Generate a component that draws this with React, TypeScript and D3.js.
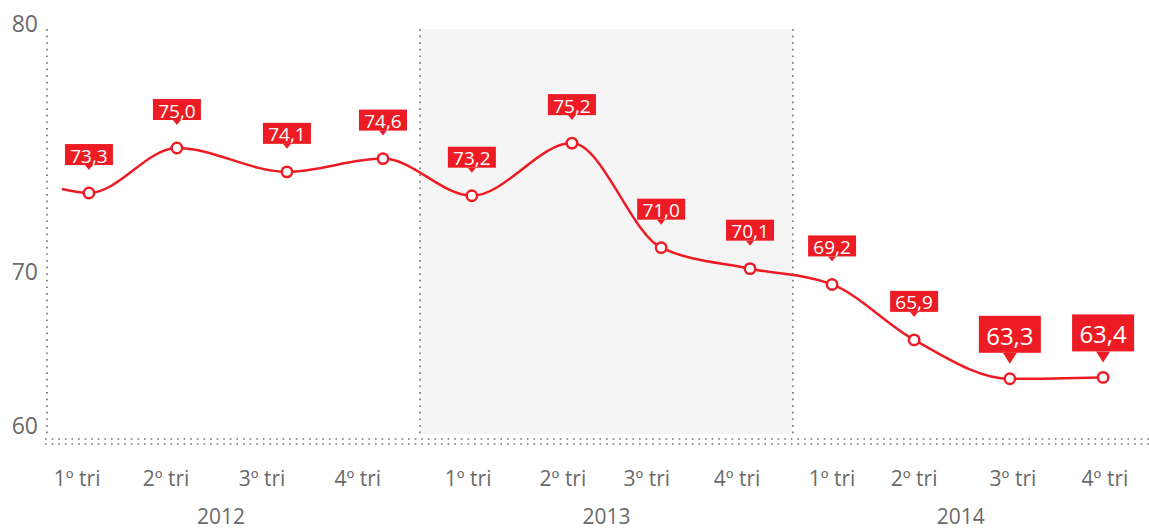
import * as d3 from "d3";

// quarterly values
const years = ["2012", "2013", "2014"];
const quarterLabels = ["1º tri", "2º tri", "3º tri", "4º tri"];
const values = [73.3, 75.0, 74.1, 74.6, 73.2, 75.2, 71.0, 70.1, 69.2, 65.9, 63.3, 63.4];
// position of each reading, in months from Jan 2012
const pointMonth = [1.35, 4.18, 7.72, 10.81, 13.67, 16.89, 19.76, 22.62, 25.26, 27.9, 30.98, 33.98];
const tickMonth = [0.97, 3.83, 6.92, 10.0, 13.55, 16.6, 19.3, 22.2, 25.26, 27.9, 31.08, 34.04];
const yearMonth = [5.6, 18.0, 29.4];
const yearStart = [0, 12, 24];
// the line begins a little before the first reading
const lineStartMonth = 0.48;
const lineStartValue = 73.45;
const yTicks = [60, 70, 80];

const RED = "#ed1c24";
const GREY_TEXT = "#6a6a6a";
const DOT = "#7a7a7a";
const FONT = "'Open Sans', 'Noto Sans', sans-serif";

function fmt(v: number) {
  return v.toFixed(1).replace(".", ",");
}

export default function App() {
  const width = 1149;
  const height = 531;

  const x = d3.scaleLinear().domain([0, 36]).range([47, 47 + 36 * 31.08]);
  // the source chart is not evenly scaled, so piecewise
  const y = d3
    .scaleLinear()
    .domain([60, 65, 70, 73, 75, 80])
    .range([425, 355, 271, 201, 148, 26]);

  const plotTop = y(80) + 3;
  const plotBottom = y(60) + 9;

  const linePts: [number, number][] = [[lineStartMonth, lineStartValue]].concat(
    values.map((v, i) => [pointMonth[i], v])
  ) as [number, number][];

  const line = d3
    .line<[number, number]>()
    .x((d) => x(d[0]))
    .y((d) => y(d[1]))
    .curve(d3.curveMonotoneX);

  const dash = { stroke: DOT, strokeWidth: 1.7, strokeDasharray: "1.7 4.9" };

  return (
    <div style={{ position: "absolute", left: 0, top: 0 }}>
      <svg width={width} height={height} style={{ display: "block", fontFamily: FONT }}>
        <rect width={width} height={height} fill="#fff" />

        {/* 2013 band */}
        <rect
          x={x(12)}
          y={plotTop}
          width={x(24) - x(12)}
          height={plotBottom - plotTop}
          fill="#f5f5f5"
        />

        {/* year dividers */}
        {yearStart.map((m) => (
          <line key={m} x1={x(m)} x2={x(m)} y1={plotTop} y2={plotBottom} {...dash} />
        ))}

        {/* double dotted baseline */}
        {[14, 19].map((off) => (
          <line key={off} x1={x(0) - 2} x2={width} y1={y(60) + off} y2={y(60) + off} {...dash} />
        ))}

        {/* y ticks */}
        {yTicks.map((t) => (
          <text
            key={t}
            x={38}
            y={y(t) - (t === 80 ? 3 : 0)}
            textAnchor="end"
            dominantBaseline="central"
            fontSize={23}
            fill={GREY_TEXT}
          >
            {t}
          </text>
        ))}

        {/* quarter labels */}
        {tickMonth.map((m, i) => (
          <text
            key={i}
            x={x(m)}
            y={478}
            textAnchor="middle"
            dominantBaseline="central"
            fontSize={21}
            fill={GREY_TEXT}
          >
            {quarterLabels[i % 4]}
          </text>
        ))}

        {/* year labels */}
        {yearMonth.map((m, i) => (
          <text
            key={years[i]}
            x={x(m)}
            y={524}
            textAnchor="middle"
            fontSize={21}
            fill={GREY_TEXT}
          >
            {years[i]}
          </text>
        ))}

        {/* series line */}
        <path d={line(linePts) || ""} fill="none" stroke={RED} strokeWidth={2.5} strokeLinejoin="round" />

        {/* points + callouts */}
        {values.map((v, i) => {
          const cx = x(pointMonth[i]);
          const cy = y(v);
          const big = i >= values.length - 2;
          const bw = big ? 62 : 48;
          const bh = big ? 37 : 21;
          const gap = big ? 26 : 28;
          const tipH = big ? 11 : 5;
          const tipW = big ? 7 : 4;
          const bottom = cy - gap;
          return (
            <g key={i}>
              <rect x={cx - bw / 2} y={bottom - bh} width={bw} height={bh} fill={RED} />
              <path
                d={`M${cx - tipW},${bottom} L${cx + tipW},${bottom} L${cx},${bottom + tipH} Z`}
                fill={RED}
              />
              <text
                x={cx}
                y={bottom - bh / 2 + 1}
                textAnchor="middle"
                dominantBaseline="central"
                fontSize={big ? 24 : 19}
                fill="#fff"
              >
                {fmt(v)}
              </text>
              <circle cx={cx} cy={cy} r={5.2} fill="#fff" stroke={RED} strokeWidth={2.5} />
            </g>
          );
        })}
      </svg>
    </div>
  );
}
